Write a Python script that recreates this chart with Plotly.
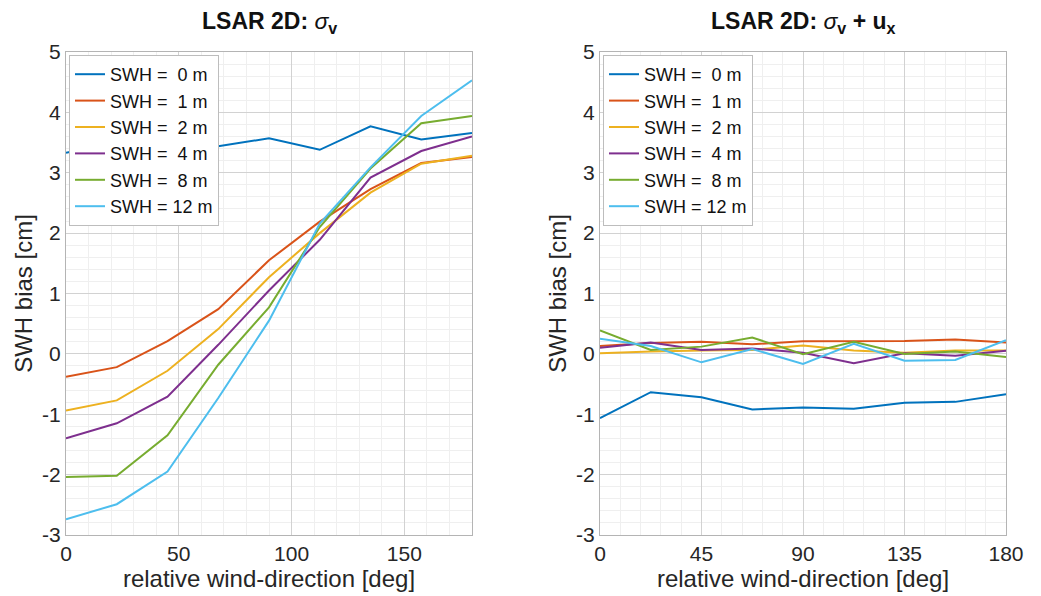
import plotly.graph_objects as go

# ---------------- data ----------------
wind_dir = [0, 22.5, 45, 67.5, 90, 112.5, 135, 157.5, 180]
swh_labels = ["SWH = \u00a00 m", "SWH = \u00a01 m", "SWH = \u00a02 m",
              "SWH = \u00a04 m", "SWH = \u00a08 m", "SWH = 12 m"]
colors = ["#0072BD", "#D95319", "#EDB120", "#7E2F8E", "#77AC30", "#4DBEEE"]

# left panel: sigma_v
bias_sigma_v = [
    [3.33, 3.50, 3.56, 3.44, 3.57, 3.38, 3.77, 3.55, 3.66],   # 0 m
    [-0.38, -0.22, 0.21, 0.74, 1.55, 2.19, 2.73, 3.16, 3.26],  # 1 m
    [-0.94, -0.77, -0.28, 0.41, 1.27, 2.00, 2.67, 3.15, 3.28], # 2 m
    [-1.40, -1.15, -0.71, 0.15, 1.05, 1.89, 2.92, 3.36, 3.60], # 4 m
    [-2.04, -2.02, -1.35, -0.18, 0.77, 2.10, 3.07, 3.82, 3.94],# 8 m
    [-2.74, -2.49, -1.95, -0.73, 0.55, 2.16, 3.09, 3.94, 4.53],# 12 m
]

# right panel: sigma_v + u_x
bias_sigma_v_ux = [
    [-1.065, -0.635, -0.72, -0.92, -0.89, -0.91, -0.81, -0.795, -0.67],
    [0.13, 0.18, 0.20, 0.16, 0.21, 0.215, 0.215, 0.24, 0.19],
    [0.01, 0.04, 0.055, 0.065, 0.14, 0.055, 0.02, 0.055, 0.055],
    [0.10, 0.19, 0.065, 0.09, 0.02, -0.155, 0.01, -0.03, 0.05],
    [0.39, 0.065, 0.12, 0.27, -0.005, 0.20, 0.0, 0.04, -0.05],
    [0.25, 0.13, -0.14, 0.08, -0.165, 0.165, -0.115, -0.10, 0.225],
]

left_xticks = [0, 50, 100, 150]
right_xticks = [0, 45, 90, 135, 180]
yticks = [-3, -2, -1, 0, 1, 2, 3, 4, 5]
ytick_labels = ["-3", "-2", "-1", "0", "1", "2", "3", "4", "5"]

# ---------------- figure ----------------
W, H = 1041, 596
ML, MR, MT, MB = 66, 35, 52, 61
PW, PH = W - ML - MR, H - MT - MB
FONT = "Liberation Sans, Arial, Helvetica, sans-serif"
fig = go.Figure()

for i in range(len(swh_labels)):
    fig.add_trace(go.Scatter(x=wind_dir, y=bias_sigma_v[i], mode="lines",
                             name=swh_labels[i], line=dict(color=colors[i], width=2),
                             xaxis="x", yaxis="y", legend="legend"))
for i in range(len(swh_labels)):
    fig.add_trace(go.Scatter(x=wind_dir, y=bias_sigma_v_ux[i], mode="lines",
                             name=swh_labels[i], line=dict(color=colors[i], width=2),
                             xaxis="x2", yaxis="y2", legend="legend2"))

def fx(p):  # pixel x -> plot-area fraction
    return (p - ML) / PW

def fy(p):  # pixel y -> plot-area fraction
    return 1 - (p - MT) / PH

x1_dom = [fx(66), fx(472)]
x2_dom = [fx(600), fx(1006)]
y_dom = [0, 1]

grid_major = "#d2d2d2"
grid_minor = "#efefef"
axis_line = "#b4b4b4"
tick_font = dict(family=FONT, size=21, color="#262626")
title_font = dict(family=FONT, size=24, color="#262626")

def xaxis(domain, ticks, minor_dt, anchor):
    return dict(domain=domain, range=[0, 180], tickvals=ticks, anchor=anchor,
                showgrid=True, gridcolor=grid_major, gridwidth=1,
                minor=dict(dtick=minor_dt, tick0=0, showgrid=True, gridcolor=grid_minor, gridwidth=1),
                showline=True, mirror=True, linecolor=axis_line, linewidth=1,
                zeroline=False, ticks="", tickfont=tick_font, automargin=False,
                title=dict(text="relative wind-direction [deg]", font=title_font, standoff=5))

def yaxis(anchor):
    return dict(domain=y_dom, range=[-3, 5], tickvals=yticks, ticktext=ytick_labels,
                anchor=anchor,
                showgrid=True, gridcolor=grid_major, gridwidth=1,
                minor=dict(dtick=0.2, tick0=0, showgrid=True, gridcolor=grid_minor, gridwidth=1),
                showline=True, mirror=True, linecolor=axis_line, linewidth=1,
                zeroline=False, ticks="", tickfont=tick_font, automargin=False,
                title=dict(text="SWH bias [cm]", font=title_font, standoff=2))

legend_common = dict(bgcolor="white", bordercolor="#bdbdbd", borderwidth=1,
                     font=dict(family=FONT, size=18, color="#111111"),
                     xanchor="left", yanchor="top", tracegroupgap=0,
                     itemwidth=30)

fig.update_layout(
    width=W, height=H,
    margin=dict(l=ML, r=MR, t=MT, b=MB, pad=0),
    paper_bgcolor="white", plot_bgcolor="white",
    xaxis=xaxis(x1_dom, left_xticks, 10, "y"),
    yaxis=yaxis("x"),
    xaxis2=xaxis(x2_dom, right_xticks, 9, "y2"),
    yaxis2=yaxis("x2"),
    legend=dict(x=fx(69), y=fy(55), **legend_common),
    legend2=dict(x=fx(603), y=fy(55), **legend_common),
    annotations=[
        dict(text="<b>LSAR 2D: </b><i>σ</i><b><sub>v</sub></b>",
             x=(x1_dom[0] + x1_dom[1]) / 2, y=fy(6),
             xref="paper", yref="paper", xanchor="center", yanchor="top",
             showarrow=False, font=dict(family=FONT, size=23, color="#111111")),
        dict(text="<b>LSAR 2D: </b><i>σ</i><b><sub>v</sub> + u<sub>x</sub></b>",
             x=(x2_dom[0] + x2_dom[1]) / 2, y=fy(6),
             xref="paper", yref="paper", xanchor="center", yanchor="top",
             showarrow=False, font=dict(family=FONT, size=23, color="#111111")),
    ],
)

fig.write_html("out.html")
